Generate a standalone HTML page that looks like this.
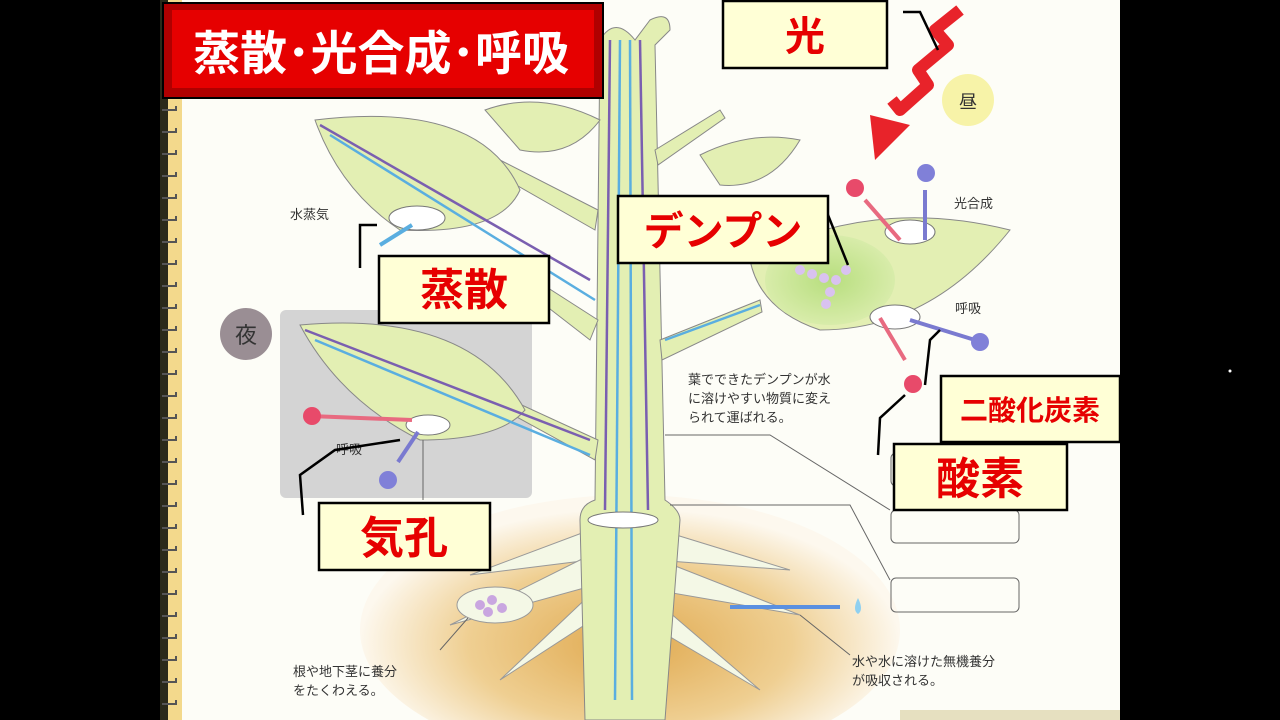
<!DOCTYPE html>
<html><head><meta charset="utf-8"><style>
html,body{margin:0;padding:0;background:#000;width:1280px;height:720px;overflow:hidden;}
svg{display:block}
.jp{font-family:"Liberation Sans","Noto Sans CJK JP",sans-serif;}
</style></head><body>
<svg width="1280" height="720" viewBox="0 0 1280 720" class="jp">
<defs>
<radialGradient id="soil" cx="0.5" cy="0.55" r="0.5">
<stop offset="0" stop-color="#e0a94f"/><stop offset="0.6" stop-color="#efcf92"/><stop offset="1" stop-color="#fdf8ee"/>
</radialGradient>
<radialGradient id="spot" cx="0.5" cy="0.5" r="0.5"><stop offset="0" stop-color="#b7de7e"/><stop offset="1" stop-color="#d8ecaa"/></radialGradient>
</defs>
<rect x="0" y="0" width="1280" height="720" fill="#000"/>
<rect x="160" y="0" width="960" height="720" fill="#fdfdf7"/>
<rect x="160" y="0" width="8" height="720" fill="#2a2a1a"/>
<rect x="168" y="0" width="14" height="720" fill="#f3d98c"/>
<g stroke="#555" stroke-width="2" fill="none">
<path d="M162 110 h14 v-4"/><path d="M162 132 h14 v-4"/><path d="M162 154 h14 v-4"/><path d="M162 176 h14 v-4"/><path d="M162 198 h14 v-4"/><path d="M162 220 h14 v-4"/><path d="M162 242 h14 v-4"/><path d="M162 264 h14 v-4"/><path d="M162 286 h14 v-4"/><path d="M162 308 h14 v-4"/><path d="M162 330 h14 v-4"/><path d="M162 352 h14 v-4"/><path d="M162 374 h14 v-4"/><path d="M162 396 h14 v-4"/><path d="M162 418 h14 v-4"/><path d="M162 440 h14 v-4"/><path d="M162 462 h14 v-4"/><path d="M162 484 h14 v-4"/><path d="M162 506 h14 v-4"/><path d="M162 528 h14 v-4"/><path d="M162 550 h14 v-4"/><path d="M162 572 h14 v-4"/><path d="M162 594 h14 v-4"/><path d="M162 616 h14 v-4"/><path d="M162 638 h14 v-4"/><path d="M162 660 h14 v-4"/><path d="M162 682 h14 v-4"/><path d="M162 704 h14 v-4"/>
</g>
<ellipse cx="630" cy="630" rx="270" ry="135" fill="url(#soil)"/>
<rect x="900" y="710" width="220" height="10" fill="#e6e0c0"/>
<rect x="280" y="310" width="252" height="188" rx="6" fill="#d4d4d4"/>
<circle cx="246" cy="334" r="26" fill="#9a8e94"/><text x="246" y="343" font-size="22" text-anchor="middle" fill="#333">夜</text>
<circle cx="968" cy="100" r="26" fill="#f7f3a8"/><text x="968" y="108" font-size="18" text-anchor="middle" fill="#333">昼</text>
<g fill="#f4f8e6" stroke="#999" stroke-width="1">
<path d="M590 530 L470 575 L590 560Z"/><path d="M590 555 L450 625 L595 585Z"/><path d="M595 590 L500 680 L600 615Z"/>
<path d="M660 530 L790 570 L655 560Z"/><path d="M660 560 L800 615 L655 590Z"/><path d="M655 600 L760 690 L650 625Z"/>
<ellipse cx="495" cy="605" rx="38" ry="18"/>
</g>
<g fill="#c9a6e0"><circle cx="480" cy="605" r="5"/><circle cx="492" cy="600" r="5"/><circle cx="502" cy="608" r="5"/><circle cx="488" cy="612" r="5"/></g>
<path d="M600 40 Q615 15 635 40 L650 20 Q670 10 670 30 L655 45 L665 500 Q680 510 680 520 L665 720 L585 720 L580 520 Q580 505 595 500 Z" fill="#e3efb3" stroke="#888"/>
<g fill="#e3efb3" stroke="#888">
<path d="M598 320 L520 270 L510 278 L590 340Z"/>
<path d="M598 440 L500 395 L495 405 L595 460Z"/>
<path d="M598 210 L500 160 L490 170 L595 230Z"/>
<path d="M660 340 L760 300 L762 312 L662 360Z"/>
<path d="M655 150 L720 110 L725 118 L658 165Z"/>
<path d="M315 120 Q480 100 520 190 Q500 235 400 230 Q340 190 315 120Z"/>
<path d="M300 325 Q470 310 525 410 Q500 440 420 440 Q340 400 300 325Z"/>
<path d="M750 260 Q870 195 1010 230 Q930 330 820 330 Q760 310 750 260Z"/>
<path d="M485 110 Q540 90 600 120 Q570 160 520 150Z"/>
<path d="M700 155 Q750 130 800 140 Q770 190 720 185Z"/>
</g>
<ellipse cx="830" cy="280" rx="65" ry="45" fill="url(#spot)"/>
<g fill="none" stroke-width="2.5">
<path d="M320 125 L590 280" stroke="#7a5fb0"/><path d="M330 135 L595 300" stroke="#5aaee0"/>
<path d="M305 330 L590 440" stroke="#7a5fb0"/><path d="M315 340 L590 455" stroke="#5aaee0"/>
<path d="M610 40 L605 510" stroke="#7a5fb0"/><path d="M620 40 L615 700" stroke="#5aaee0"/>
<path d="M640 40 L648 510" stroke="#7a5fb0"/><path d="M630 40 L632 700" stroke="#5aaee0"/>
<path d="M665 340 L760 305" stroke="#5aaee0"/>
</g>
<ellipse cx="417" cy="218" rx="28" ry="12" fill="#fff" stroke="#777"/>
<ellipse cx="428" cy="425" rx="22" ry="10" fill="#fff" stroke="#777"/>
<ellipse cx="910" cy="232" rx="25" ry="12" fill="#fff" stroke="#777"/>
<ellipse cx="895" cy="317" rx="25" ry="12" fill="#fff" stroke="#777"/>
<ellipse cx="623" cy="520" rx="35" ry="8" fill="#fff" stroke="#777"/>
<g fill="#d9c2f0"><circle cx="800" cy="270" r="5"/><circle cx="812" cy="274" r="5"/><circle cx="824" cy="278" r="5"/><circle cx="836" cy="280" r="5"/><circle cx="830" cy="292" r="5"/><circle cx="826" cy="304" r="5"/><circle cx="846" cy="270" r="5"/></g>
<!-- light zigzag arrow -->
<path d="M960 10 L935 30 L948 45 L918 70 L928 85 L900 110 L892 100" fill="none" stroke="#e8232a" stroke-width="12" stroke-linejoin="round"/>
<path d="M870 115 L910 125 L875 160Z" fill="#e8232a"/>
<path d="M900 240 L865 200" stroke="#e86a80" stroke-width="4"/>
<path d="M925 190 L925 240" stroke="#7a7ad0" stroke-width="4"/>
<path d="M905 360 L880 318" stroke="#e86a80" stroke-width="4"/>
<path d="M910 320 L975 340" stroke="#7a7ad0" stroke-width="4"/>
<path d="M310 416 L412 420" stroke="#e86a80" stroke-width="4"/>
<path d="M418 432 L398 462" stroke="#7a7ad0" stroke-width="4"/>
<path d="M412 225 L380 245" stroke="#5aaee0" stroke-width="4"/>
<path d="M840 607 L730 607" stroke="#5a90e0" stroke-width="4"/>
<g><circle cx="855" cy="188" r="9" fill="#e84a6a"/><circle cx="926" cy="173" r="9" fill="#8080d8"/><circle cx="980" cy="342" r="9" fill="#8080d8"/><circle cx="913" cy="384" r="9" fill="#e84a6a"/><circle cx="312" cy="416" r="9" fill="#e84a6a"/><circle cx="388" cy="480" r="9" fill="#8080d8"/></g>
<path d="M858 598 Q852 610 858 614 Q864 610 858 598Z" fill="#8fd0f0"/>
<g font-size="13" fill="#333">
<text x="290" y="219">水蒸気</text>
<text x="954" y="208">光合成</text>
<text x="955" y="313">呼吸</text>
<text x="336" y="454">呼吸</text>
<text x="688" y="384">葉でできたデンプンが水</text>
<text x="688" y="403">に溶けやすい物質に変え</text>
<text x="688" y="422">られて運ばれる。</text>
<text x="293" y="676">根や地下茎に養分</text>
<text x="293" y="695">をたくわえる。</text>
<text x="852" y="666">水や水に溶けた無機養分</text>
<text x="852" y="685">が吸収される。</text>
</g>
<g stroke="#666" fill="none" stroke-width="1">
<path d="M665 435 L770 435 L890 510"/><path d="M670 505 L850 505 L890 580"/>
<path d="M800 615 L850 655"/><path d="M468 618 L440 650"/>
<rect x="891" y="510" width="128" height="33" rx="5"/><rect x="891" y="578" width="128" height="34" rx="5"/><rect x="891" y="453" width="20" height="33" rx="5"/>
<path d="M423 440 L423 500"/>
</g>
<g stroke="#000" stroke-width="2.5" fill="none">
<path d="M360 268 L360 225 L377 225"/>
<path d="M303 515 L300 475 L335 450 L400 440"/>
<path d="M828 215 L848 265"/>
<path d="M878 455 L880 418 L905 395"/>
<path d="M925 385 L930 340 L940 330"/>
<path d="M903 12 L920 12 L938 50"/>
</g>
<rect x="163" y="3" width="440" height="95" fill="#b00000"/>
<rect x="172" y="10" width="422" height="78" fill="#e60000"/>
<rect x="163" y="3" width="440" height="95" fill="none" stroke="#000" stroke-width="2"/>
<text x="381" y="70" font-size="47" font-weight="bold" fill="#fff" text-anchor="middle">蒸散･光合成･呼吸</text>
<g stroke="#000" stroke-width="2.5" fill="#ffffd6">
<rect x="723" y="1" width="164" height="67"/>
<rect x="618" y="196" width="210" height="67"/>
<rect x="379" y="256" width="170" height="67"/>
<rect x="941" y="376" width="179" height="66"/>
<rect x="894" y="444" width="173" height="66"/>
<rect x="319" y="503" width="171" height="67"/>
</g>
<g fill="#e60000" font-weight="bold" text-anchor="middle">
<text x="805" y="50" font-size="40">光</text>
<text x="723" y="245" font-size="40">デンプン</text>
<text x="464" y="305" font-size="44">蒸散</text>
<text x="1030" y="420" font-size="28">二酸化炭素</text>
<text x="980" y="494" font-size="44">酸素</text>
<text x="404" y="553" font-size="44">気孔</text>
</g>
<circle cx="1230" cy="371" r="1.5" fill="#fff"/>
</svg>
</body></html>
